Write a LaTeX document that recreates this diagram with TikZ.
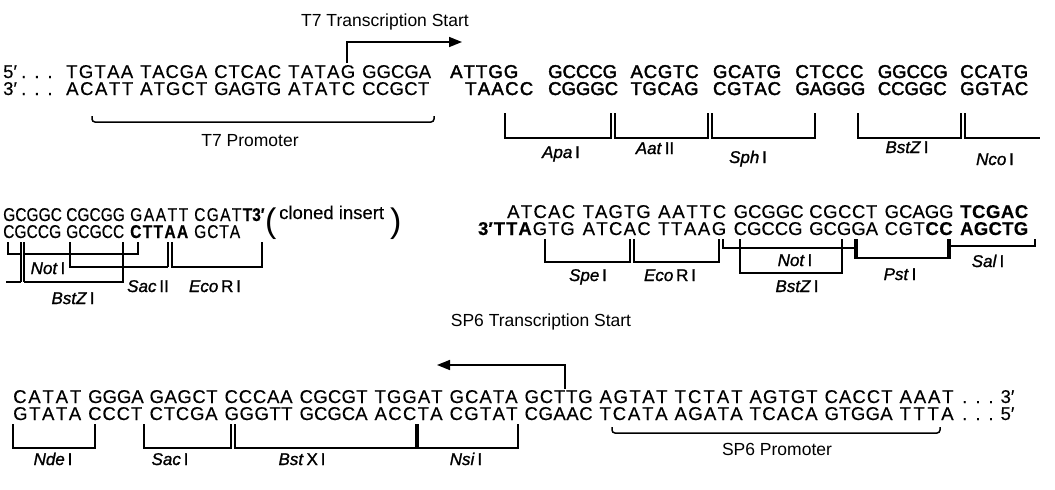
\documentclass[tikz,border=0pt]{standalone}
\usepackage{fontspec}
\setmainfont{Liberation Sans}
\newfontfamily\seqf[FakeBold=0.3]{Liberation Sans}
\newfontfamily\seqm[FakeBold=2]{Liberation Sans}
\newfontfamily\seqc[FakeStretch=0.84,FakeBold=0.3]{Liberation Sans}
\newfontfamily\enzf[FakeBold=1.2]{Liberation Sans}
\usetikzlibrary{arrows.meta}
\makeatletter
\newcommand\sq[2]{\makebox[#1pt][s]{\expandafter\sq@a#2\@nil}}
\def\sq@a#1#2\@nil{#1\ifx\relax#2\relax\else\hfill\sq@a#2\@nil\fi}
\makeatother
\tikzset{
  seq/.style={font=\seqf\fontsize{18.5}{18.5}\selectfont, inner sep=0pt, anchor=base west},
  seqmed/.style={font=\seqm\fontsize{18.5}{18.5}\selectfont, inner sep=0pt, anchor=base west},
  seqcond/.style={font=\seqc\fontsize{18.5}{18.5}\selectfont, inner sep=0pt, anchor=base west},
  lab/.style={font=\fontsize{17.5}{17.5}\selectfont, inner sep=0pt, anchor=base},
  enz/.style={font=\enzf\fontsize{17}{17}\selectfont, inner sep=0pt, anchor=base},
  brk/.style={line width=1.5pt},
  tbar/.style={line width=3.5pt},
  startarrow/.style={line width=1.6pt, -{Triangle[length=13pt,width=10pt]}},
  paren/.style={font=\fontsize{34}{34}\selectfont, inner sep=0pt, anchor=base west}
}
\newcommand{\enzname}[2]{\textit{#1}\,#2}
\begin{document}
\begin{tikzpicture}[x=1pt,y=-1pt]
\fill[white] (0,0) rectangle (1055,490);
\useasboundingbox (0,0) rectangle (1055,490);

% ---------- T7 transcription start ----------
\node[lab] (t7lab) at (385,26) {T7 Transcription Start};
\coordinate (t7a) at (347,63);
\coordinate (t7b) at (462,42);
\draw[startarrow] (t7a) |- (t7b);

% ---------- line 1 / line 2 ----------
\node[seq] (p1) at (3,78) {5′};
\node[seq] (d1) at (21,78) {.\hspace{8pt}.\hspace{8pt}.};
\foreach \n/\x/\t in {a1/66/TGTAA, a2/140/TACGA, a3/214/CTCAC, a4/288/TATAG, a5/362/GGCGA}
  \node[seq] (\n) at (\x,78) {\sq{67}{\t}};
\foreach \n/\x/\t in {a6/450/ATTGG, a7/548/GCCCG, a8/630.4/ACGTC, a9/712.8/GCATG, a10/795.2/CTCCC, a11/877.6/GGCCG, a12/960/CCATG}
  \node[seqmed] (\n) at (\x,78) {\sq{68}{\t}};

\node[seq] (p2) at (3,95) {3′};
\node[seq] (d2) at (21,95) {.\hspace{8pt}.\hspace{8pt}.};
\foreach \n/\x/\t in {b1/66/ACATT, b2/140/ATGCT, b3/214/GAGTG, b4/288/ATATC, b5/362/CCGCT}
  \node[seq] (\n) at (\x,95) {\sq{67}{\t}};
\foreach \n/\x/\t in {b6/465/TAACC, b7/548/CGGGC, b8/630.4/TGCAG, b9/712.8/CGTAC, b10/795.2/GAGGG, b11/877.6/CCGGC, b12/960/GGTAC}
  \node[seqmed] (\n) at (\x,95) {\sq{68}{\t}};

% T7 promoter
\draw[brk, rounded corners=3pt] (92,116) -- (92,122) -- (434,122) -- (434,116);
\node[lab] (t7p) at (250,146) {T7 Promoter};

% row 1 restriction sites
\draw[brk] (505,113) -- (505,138) -- (611,138) -- (611,113);
\draw[brk] (615,113) -- (615,138) -- (708,138) -- (708,113);
\draw[brk] (712,113) -- (712,138) -- (815,138) -- (815,113);
\draw[brk] (858,113) -- (858,138) -- (961,138) -- (961,113);
\draw[brk] (965,113) -- (965,138) -- (1040,138);
\node[enz] (apa) at (561,158) {\enzname{Apa}{I}};
\node[enz] (aat) at (655,154) {\enzname{Aat}{II}};
\node[enz] (sph) at (748,163) {\enzname{Sph}{I}};
\node[enz] (bz1) at (907,153) {\enzname{BstZ}{I}};
\node[enz] (nco) at (995,165) {\enzname{Nco}{I}};

% ---------- line 3 / line 4 ----------
\foreach \n/\x/\t in {c1/3/GCGGC, c2/66/CGCGG, c3/130/GAATT}
  \node[seqcond] (\n) at (\x,221) {\sq{58}{\t}};
\node[seqcond] (c4) at (194,221) {\makebox[58pt][s]{C\hfill G\hfill A\hfill T\hfill\textbf{T}}\textbf{3′}};
\foreach \n/\x/\t in {e1/3/CGCCG, e2/66/GCGCC}
  \node[seqcond] (\n) at (\x,238) {\sq{58}{\t}};
\node[seqcond] (e3) at (130,238) {\bfseries\sq{58}{CTTAA}};
\node[seqcond] (e4) at (194,238) {\sq{46}{GCTA}};

\node[paren] (po) at (265,232) {(};
\node[seq] (ins) at (279,219) {cloned insert};
\node[paren] (pc) at (390,232) {)};

\foreach \n/\x/\t in {f1/507/ATCAC, f2/582.5/TAGTG, f3/658/AATTC, f4/733.5/GCGGC, f5/809/CGCCT, f6/884.5/GCAGG}
  \node[seq] (\n) at (\x,218) {\sq{68}{\t}};
\node[seq] (f7) at (960,218) {\bfseries\sq{68}{TCGAC}};
\node[seq, anchor=base east] (g0) at (575,235) {\textbf{3′}\hspace{1pt}\makebox[81pt][s]{\textbf{T}\hfill\textbf{T}\hfill\textbf{A}\hfill G\hfill T\hfill G}};
\foreach \n/\x/\t in {g1/582.5/ATCAC, g2/658/TTAAG, g3/733.5/CGCCG, g4/809/GCGGA}
  \node[seq] (\n) at (\x,235) {\sq{68}{\t}};
\node[seq] (g5) at (884.5,235) {\makebox[68pt][s]{C\hfill G\hfill T\hfill\textbf{C}\hfill\textbf{C}}};
\node[seq] (g6) at (960,235) {\bfseries\sq{68}{AGCTG}};

% row 2 left
\draw[brk] (8,242) -- (8,254) -- (21,254);
\draw[brk] (21,242) -- (21,282);
\draw[brk] (24,242) -- (24,282);
\draw[brk] (6,282) -- (21,282);
\draw[brk] (24,254) -- (138,254) -- (138,242);
\draw[brk] (70,242) -- (70,267) -- (168,267);
\draw[brk] (24,282) -- (123,282) -- (123,242);
\draw[brk] (168,242) -- (168,267);
\draw[brk] (172,242) -- (172,267) -- (262,267) -- (262,242);
\node[enz] (not1) at (48,274) {\enzname{Not}{I}};
\node[enz] (sac2) at (148,292) {\enzname{Sac}{II}};
\node[enz] (eco1) at (215,292) {\enzname{Eco}{R\,I}};
\node[enz] (bz2) at (73,304) {\enzname{BstZ}{I}};

% row 2 right
\draw[brk] (545,239) -- (545,262) -- (630,262) -- (630,239);
\draw[brk] (634,239) -- (634,262) -- (719,262) -- (719,239);
\draw[brk] (723,239) -- (723,248) -- (855,248);
\draw[brk] (740,239) -- (740,273) -- (842,273) -- (842,239);
\draw[brk] (857,258) -- (947,258);
\draw[tbar] (856,239) -- (856,259);
\draw[tbar] (949,239) -- (949,259);
\draw[brk] (951,246) -- (1035,246) -- (1035,239);
\node[enz] (spe) at (588,281) {\enzname{Spe}{I}};
\node[enz] (eco2) at (670,281) {\enzname{Eco}{R\,I}};
\node[enz] (not2) at (795,266) {\enzname{Not}{I}};
\node[enz] (bz3) at (797,292) {\enzname{BstZ}{I}};
\node[enz] (pst) at (900,280) {\enzname{Pst}{I}};
\node[enz] (sal) at (988,267) {\enzname{Sal}{I}};

% ---------- SP6 transcription start ----------
\node[lab] (sp6lab) at (541,326) {SP6 Transcription Start};
\coordinate (s6a) at (565,389);
\coordinate (s6b) at (437,365);
\draw[startarrow] (s6a) |- (s6b);

% ---------- line 5 / line 6 ----------
\foreach \n/\x/\t in {h1/13/CATAT, h3/149.4/GAGCT, h4/224.4/CCCAA, h5/299.4/CGCGT, h6/374.4/TGGAT, h7/449.4/GCATA, h8/524.4/GCTTG, h9/599.4/AGTAT, h10/674.4/TCTAT, h11/749.4/AGTGT, h12/824.4/CACCT}
  \node[seq] (\n) at (\x,403) {\sq{68}{\t}};
\node[seq] (h2) at (88,403) {\sq{54}{GGGA}};
\node[seq] (h13) at (899.4,403) {\sq{54}{AAAT}};
\node[seq] (hd) at (962,403) {.\hspace{8pt}.\hspace{8pt}.\hspace{7pt}3′};
\foreach \n/\x/\t in {k1/13/GTATA, k3/149.4/CTCGA, k4/224.4/GGGTT, k5/299.4/GCGCA, k6/374.4/ACCTA, k7/449.4/CGTAT, k8/524.4/CGAAC, k9/599.4/TCATA, k10/674.4/AGATA, k11/749.4/TCACA, k12/824.4/GTGGA}
  \node[seq] (\n) at (\x,420) {\sq{68}{\t}};
\node[seq] (k2) at (88,420) {\sq{54}{CCCT}};
\node[seq] (k13) at (899.4,420) {\sq{54}{TTTA}};
\node[seq] (kd) at (962,420) {.\hspace{8pt}.\hspace{8pt}.\hspace{7pt}5′};

% SP6 promoter
\draw[brk, rounded corners=3pt] (612,427) -- (612,433) -- (940,433) -- (940,427);
\node[lab] (sp6p) at (777,455) {SP6 Promoter};

% row 3 restriction sites
\draw[brk] (13,424) -- (13,448) -- (95,448) -- (95,424);
\draw[brk] (144,424) -- (144,448) -- (231,448) -- (231,424);
\draw[brk] (235,424) -- (235,448) -- (416,448);
\draw[tbar] (417,424) -- (417,449);
\draw[brk] (418,448) -- (518,448) -- (518,424);
\node[enz] (nde) at (53,465) {\enzname{Nde}{I}};
\node[enz] (sac1) at (170,465) {\enzname{Sac}{I}};
\node[enz] (bstx) at (302,465) {\enzname{Bst}{X\,I}};
\node[enz] (nsi) at (466,465) {\enzname{Nsi}{I}};
\end{tikzpicture}
\end{document}
